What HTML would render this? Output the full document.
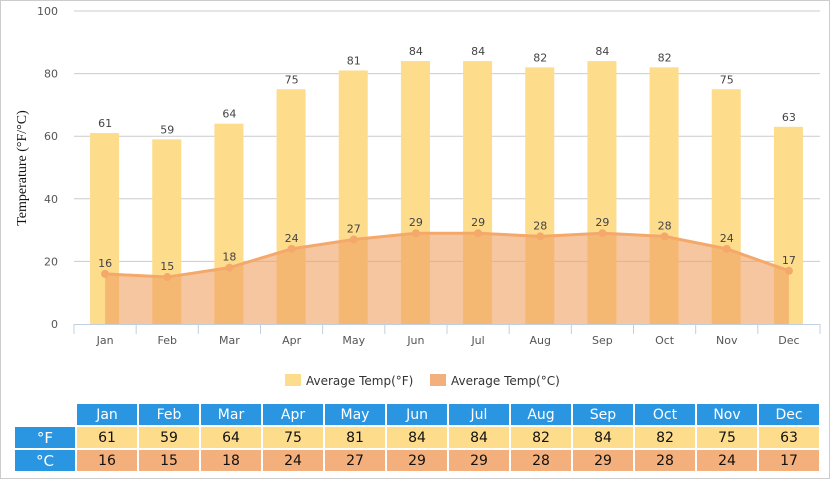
<!DOCTYPE html>
<html><head><meta charset="utf-8"><style>
body{margin:0;background:#fff;font-family:"Liberation Sans",sans-serif}
#wrap{position:relative;width:828px;height:477px;border:1px solid #ccc;overflow:hidden}
table{position:absolute;left:12px;top:401px;border-collapse:separate;border-spacing:2px;font-family:"DejaVu Sans",sans-serif;font-size:14px}
td{height:21px;text-align:center;padding:0}
.h{background:#2a96e2;color:#fff;width:60px}
.f{background:#fddc8c;color:#111}
.c{background:#f3b07c;color:#111}
.l{background:#2a96e2;color:#fff;width:60px;font-size:15px}
</style></head><body>
<div id="wrap">
<svg id="chart" width="830" height="400" style="position:absolute;left:-1px;top:-1px"></svg>
<table><tbody id="tb"></tbody></table>
</div>
<script>
const months=["Jan","Feb","Mar","Apr","May","Jun","Jul","Aug","Sep","Oct","Nov","Dec"];
const tempF=[61,59,64,75,81,84,84,82,84,82,75,63];
const tempC=[16,15,18,24,27,29,29,28,29,28,24,17];
const yTicks=[0,20,40,60,80,100];
const NS="http://www.w3.org/2000/svg";
const svg=document.getElementById('chart');
const x0=74,x1=820,yb=324,yt=11;
const bw=(x1-x0)/12;
const X=i=>x0+bw*(i+0.5);
const Y=v=>yb-(v/100)*(yb-yt);
function add(tag,attrs,parent){const e=document.createElementNS(NS,tag);for(const k in attrs)e.setAttribute(k,attrs[k]);(parent||svg).appendChild(e);return e;}
yTicks.forEach(t=>{
 if(t>0){const g=add('line',{x1:x0,x2:x1,y1:Y(t),y2:Y(t),stroke:'#ccc','stroke-width':1});
 }
 const tx=add('text',{x:58,y:Y(t)+4,'text-anchor':'end','font-size':11,fill:'#555','font-family':'DejaVu Sans'});
 tx.textContent=t;
 
});
const yt2=add('text',{x:26,y:168,transform:'rotate(-90 26 168)','text-anchor':'middle','font-size':14,fill:'#111','font-family':'Liberation Serif'});
yt2.textContent='Temperature (°F/°C)';

tempF.forEach((v,i)=>{
 const r=add('rect',{x:X(i)-15,y:Y(v),width:29,height:yb-Y(v),fill:'#fddc8c'});
 
 const t=add('text',{x:X(i),y:Y(v)-6,'text-anchor':'middle','font-size':11,fill:'#444','font-family':'DejaVu Sans'});
 t.textContent=v;
});
let d='M'+X(0)+','+yb;tempC.forEach((v,i)=>{d+=' L'+X(i)+','+Y(v);});d+=' L'+X(11)+','+yb+' Z';
const ar=add('path',{d:d,fill:'#f0a060','fill-opacity':0.6});

let ld='';tempC.forEach((v,i)=>{ld+=(i?' L':'M')+X(i)+','+Y(v);});
const ln=add('path',{d:ld,fill:'none',stroke:'#f4a96b','stroke-width':3});

tempC.forEach((v,i)=>{
 const c=add('circle',{cx:X(i),cy:Y(v),r:4,fill:'#f4a96b'});
 
 const t=add('text',{x:X(i),y:Y(v)-7,'text-anchor':'middle','font-size':11,fill:'#444','font-family':'DejaVu Sans'});
 t.textContent=v;
});
const ax=add('line',{x1:x0,x2:x1,y1:yb+0.5,y2:yb+0.5,stroke:'#c0d0e0','stroke-width':1});

for(let i=0;i<=12;i++){const tk=add('line',{x1:x0+bw*i,x2:x0+bw*i,y1:yb,y2:yb+10,stroke:'#c0d0e0'});
 }
months.forEach((m,i)=>{const t=add('text',{x:X(i),y:yb+20,'text-anchor':'middle','font-size':11,fill:'#555','font-family':'DejaVu Sans'});
 t.textContent=m;});
[[285,'#fddc8c','Average Temp(°F)'],[430,'#f3b07c','Average Temp(°C)']].forEach(([lx,col,txt])=>{
 const g=add('g',{});
 add('rect',{x:lx,y:374,width:16,height:12,fill:col},g);
 const t=add('text',{x:lx+21,y:385,'font-size':12,fill:'#333','font-family':'DejaVu Sans'},g);t.textContent=txt;
});
const tb=document.getElementById('tb');
function row(cls,label,vals,lc){
 const tr=document.createElement('tr');
 const l=document.createElement('td');l.className=lc;l.textContent=label;
 if(!label){l.style.background='none';}
 
 tr.appendChild(l);
 vals.forEach(v=>{const td=document.createElement('td');td.className=cls;td.textContent=v;
  tr.appendChild(td);});
 tb.appendChild(tr);
}
row('h','',months,'l');row('f','°F',tempF,'l');row('c','°C',tempC,'l');
</script>
</body></html>
